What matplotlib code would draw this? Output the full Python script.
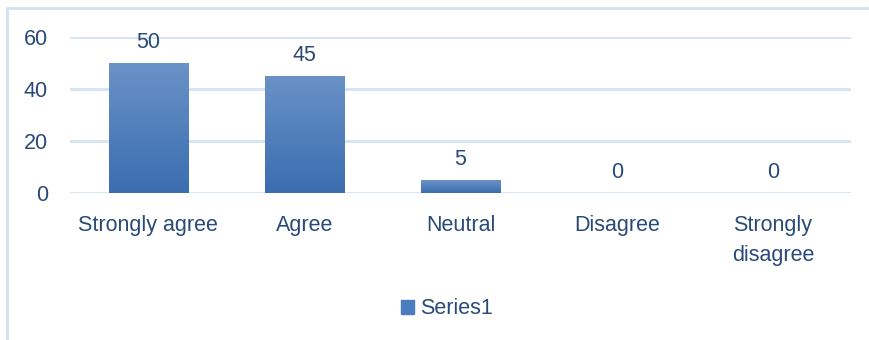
import numpy as np
import matplotlib
matplotlib.use('Agg')
import matplotlib.pyplot as plt
from matplotlib.colors import LinearSegmentedColormap
from matplotlib.patches import Rectangle
from matplotlib import font_manager

categories = ['Strongly agree', 'Agree', 'Neutral', 'Disagree', 'Strongly\ndisagree']
values = [50, 45, 5, 0, 0]
series_name = 'Series1'
yticks = [0, 20, 40, 60]

names = {f.name for f in font_manager.fontManager.ttflist}
fam = 'Liberation Sans Narrow' if 'Liberation Sans Narrow' in names else 'Liberation Sans'
plt.rcParams['font.family'] = [fam, 'DejaVu Sans']

txt = '#2a4a78'
grid = '#d6e2f2'
fs = 15.5

fig = plt.figure(figsize=(8.69, 3.40), dpi=100)
ax = fig.add_axes([70/869, 147/340, 781/869, 156/340])

x = np.arange(len(categories))
w = 0.506
bars = ax.bar(x, values, width=w, color='#4a7cbf', zorder=2)

# vertical gradient on each bar
cmap = LinearSegmentedColormap.from_list('g', ['#3b6db0', '#6a92c7'])
grad = np.linspace(0, 1, 256).reshape(-1, 1)
for b, v in zip(bars, values):
    if v <= 0:
        continue
    b.set_alpha(0)
    ax.imshow(grad, cmap=cmap, origin='lower', aspect='auto', zorder=3,
              extent=[b.get_x(), b.get_x() + w, 0, v])

ax.set_xlim(-0.5, len(categories) - 0.5)
ax.set_ylim(0, 60)
ax.set_yticks(yticks)
ax.set_xticks(x)
ax.set_xticklabels(categories, fontsize=fs, color=txt, linespacing=1.55)
ax.tick_params(axis='y', labelsize=fs, labelcolor=txt, length=0, pad=16)
ax.tick_params(axis='x', length=0, pad=16)
ax.yaxis.grid(True, color=grid, linewidth=2, zorder=0)
ax.set_axisbelow(True)
for s in ax.spines.values():
    s.set_visible(False)

for xi, v in zip(x, values):
    ax.annotate(str(v), (xi, v), xytext=(0, 7), textcoords='offset points',
                ha='center', va='bottom', fontsize=fs, color=txt)

handle = Rectangle((0, 0), 1, 1, color='#4a7cbf')
fig.legend([handle], [series_name], loc='center', bbox_to_anchor=(447/869, 1 - 309/340),
           frameon=False, fontsize=fs, labelcolor=txt, handlelength=0.6, handleheight=0.6,
           handletextpad=0.3)

# chart area border
fig.patches.append(Rectangle((7/869, -0.1), 1.1, 1 - 8/340 + 0.1, transform=fig.transFigure,
                             fill=False, edgecolor='#d3e0f1', linewidth=2))

fig.savefig('out.png', dpi=100)
